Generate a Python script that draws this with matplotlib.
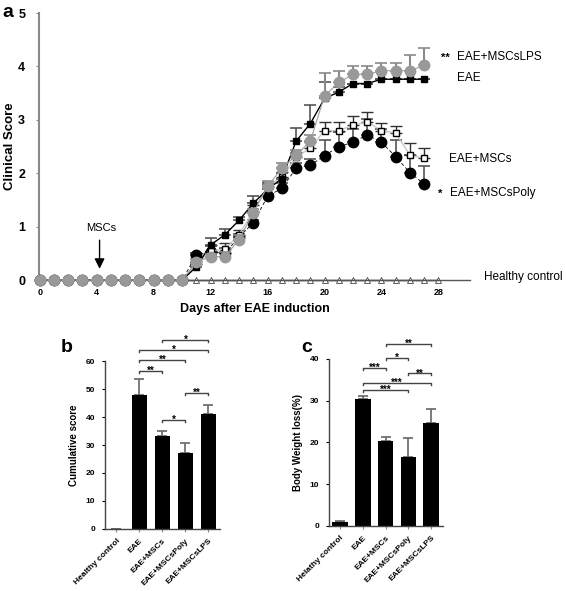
import numpy as np
import matplotlib.pyplot as plt

plt.rcParams['font.family'] = ['Liberation Sans', 'DejaVu Sans']

# data: clinical score, days 0-27
days = np.arange(28)
eae = [0] * 11 + [0.25, 0.66, 0.85, 1.12, 1.44, 1.70, 1.90, 2.60, 2.93, 3.40, 3.52,
                  3.68, 3.68, 3.76, 3.76, 3.76, 3.76]
eae_err = [0] * 11 + [0.05, 0.12, 0.10, 0.06, 0.13, 0.10, 0.10, 0.24, 0.35, 0.30, 0.10,
                      0, 0, 0, 0, 0, 0]
msc = [0] * 11 + [0.30, 0.55, 0.58, 0.85, 1.30, 1.75, 1.93, 2.30, 2.47, 2.80, 2.80,
                  2.90, 2.96, 2.80, 2.75, 2.34, 2.28]
msc_err = [0] * 11 + [0.05, 0.10, 0.12, 0.08, 0.10, 0.08, 0.10, 0.10, 0.12, 0.16, 0.16,
                      0.17, 0.18, 0.15, 0.14, 0.22, 0.19]
poly = [0] * 11 + [0.47, 0.53, 0.50, 0.81, 1.07, 1.57, 1.72, 2.09, 2.15, 2.33, 2.50,
                   2.58, 2.72, 2.58, 2.31, 2.01, 1.80]
poly_err = [0] * 11 + [0.03, 0.10, 0.10, 0.05, 0.05, 0.05, 0.10, 0.10, 0.12, 0.29, 0.28,
                       0.25, 0.30, 0.25, 0.31, 0.33, 0.33]
lps = [0] * 11 + [0.34, 0.44, 0.44, 0.76, 1.26, 1.76, 2.09, 2.34, 2.60, 3.45, 3.70,
                  3.85, 3.85, 3.92, 3.92, 3.92, 4.02]
lps_err = [0] * 11 + [0.05, 0.05, 0.08, 0.08, 0.08, 0.10, 0.10, 0.10, 0.12, 0.42, 0.21,
                      0.16, 0.15, 0.15, 0.15, 0.29, 0.32]
healthy_days = np.arange(8, 29)
healthy = [0] * len(healthy_days)

# bar panels
groups = ['Healthy control', 'EAE', 'EAE+MSCs', 'EAE+MSCsPoly', 'EAE+MSCsLPS']
groups_c = ['Helathy control', 'EAE', 'EAE+MSCs', 'EAE+MSCsPoly', 'EAE+MSCsLPS']
cum_score = [0, 47.8, 33.3, 27.0, 41.2]
cum_err = [0, 5.7, 1.7, 3.8, 3.0]
cum_sig = [(2, 4, 67.7, '*'), (1, 4, 64.0, '*'), (1, 3, 60.5, '**'),
           (1, 2, 56.5, '**'), (3, 4, 48.6, '**'), (2, 3, 39.1, '*')]
bw_loss = [0.9, 30.3, 20.4, 16.5, 24.6]
bw_err = [0.2, 0.7, 1.0, 4.6, 3.3]
bw_sig = [(2, 4, 43.6, '**'), (2, 3, 40.1, '*'), (1, 2, 37.9, '***'),
          (3, 4, 36.5, '**'), (1, 4, 34.2, '***'), (1, 3, 32.5, '***')]

fig = plt.figure(figsize=(5.66, 5.91), dpi=100)

# panel a
#
ax = fig.add_axes([0.069, 0.526, 0.761, 0.452])
spine_c = '#8a8a8a'


def up_err(e):
    return [np.zeros(len(e)), e]


ax.plot(healthy_days, healthy, color='black', lw=1.0, marker='^', ms=4.5,
        mfc='white', mec='#444444', mew=0.6, zorder=2, clip_on=False)
ax.errorbar(days, poly, yerr=up_err(poly_err), color='black', lw=0.6,
            ls=(0, (4, 3)), marker='o', ms=7.5, mfc='black', mec='black',
            ecolor='#555555', elinewidth=1.2, capsize=4, capthick=1.2,
            zorder=3, clip_on=False)
ax.errorbar(days, msc, yerr=up_err(msc_err), color='#c8c8c8', lw=1.0,
            marker='s', ms=4, mfc='white', mec='black', mew=1.0,
            ecolor='#333333', elinewidth=1.0, capsize=4, capthick=1.2,
            zorder=4, clip_on=False)
ax.errorbar(days, eae, yerr=up_err(eae_err), color='black', lw=1.0,
            marker='s', ms=4.5, mfc='black', mec='black',
            ecolor='#555555', elinewidth=1.2, capsize=4, capthick=1.2,
            zorder=5, clip_on=False)
ax.errorbar(days, lps, yerr=up_err(lps_err), color='#a0a0a0', lw=0.8,
            marker='o', ms=7.5, mfc='#999999', mec='#999999',
            ecolor='#8a8a8a', elinewidth=1.5, capsize=4, capthick=1.2,
            zorder=6, clip_on=False)

ax.set_xlim(-0.05, 30.2)
ax.set_ylim(0, 5)
ax.set_xticks(range(0, 29, 4))
ax.set_yticks(range(0, 6))
for s in ['top', 'right']:
    ax.spines[s].set_visible(False)
ax.spines['left'].set_color(spine_c)
ax.spines['left'].set_linewidth(1.5)
ax.spines['bottom'].set_color('#555555')
ax.spines['bottom'].set_linewidth(1.0)
ax.tick_params(axis='x', length=0, labelsize=6.5, pad=6)
ax.tick_params(axis='y', length=2, labelsize=9, color=spine_c, pad=8)
for lab in ax.get_xticklabels() + ax.get_yticklabels():
    lab.set_fontweight('bold')
ax.set_xlabel('Days after EAE induction', fontsize=9, fontweight='bold', labelpad=4)
ax.set_ylabel('Clinical Score', fontsize=9.5, fontweight='bold')
ax.yaxis.set_label_coords(-0.054, 0.5)

ax.annotate('', xy=(4.2, 0.16), xytext=(4.2, 0.8),
            arrowprops=dict(arrowstyle='-|>,head_width=0.3,head_length=0.6',
                            color='black', lw=1.0))
ax.text(4.3, 0.97, 'MSCs', fontsize=8, ha='center', va='center')

rlab = dict(fontsize=8.5, va='center', clip_on=False)
ax.text(28.2, 4.16, '**', fontsize=8, va='center', fontweight='bold')
ax.text(29.3, 4.18, 'EAE+MSCsLPS', **rlab)
ax.text(29.3, 3.78, 'EAE', **rlab)
ax.text(28.75, 2.26, 'EAE+MSCs', **rlab)
ax.text(28.0, 1.62, '*', fontsize=8, va='center', fontweight='bold')
ax.text(28.8, 1.64, 'EAE+MSCsPoly', **rlab)
ax.text(31.2, 0.06, 'Healthy control', **rlab)
fig.text(0.004, 0.993, 'a', fontsize=14, fontweight='bold', va='top')


# panels b and c
#
def bar_panel(rect, vals, errs, labels, sigs, ymax, ystep, ylabel, tag, tag_xy):
    bx = fig.add_axes(rect)
    x = np.arange(len(vals))
    bx.bar(x, vals, width=0.68, color='black', zorder=2)
    bx.errorbar(x, vals, yerr=[np.zeros(len(errs)), errs], fmt='none',
                ecolor='#666666', elinewidth=1.2, capsize=3.5, capthick=1.2, zorder=1)
    bx.set_xlim(-0.5, 4.5)
    bx.set_ylim(0, ymax)
    bx.set_yticks(np.arange(0, ymax + 1, ystep))
    bx.set_xticks(x)
    bx.set_xticklabels(labels, rotation=45, ha='right', rotation_mode='anchor',
                       fontsize=6, fontweight='bold')
    for s in ['top', 'right']:
        bx.spines[s].set_visible(False)
    for s in ['left', 'bottom']:
        bx.spines[s].set_color('#444444')
        bx.spines[s].set_linewidth(1.0)
    bx.tick_params(axis='x', length=2, color='#888888', pad=4)
    bx.tick_params(axis='y', length=2, labelsize=6, pad=5)
    for lab in bx.get_yticklabels():
        lab.set_fontweight('bold')
    bx.set_ylabel(ylabel, fontsize=7, fontweight='bold', labelpad=5)
    h = ymax * 0.012
    for a, b, y, star in sigs:
        bx.plot([a, a, b, b], [y - h, y, y, y - h], color='#444444', lw=1.0,
                clip_on=False)
        bx.text((a + b) / 2, y, star, ha='center', va='center', fontsize=7,
                fontweight='bold', clip_on=False)
    fig.text(tag_xy[0], tag_xy[1], tag, fontsize=14, fontweight='bold', va='center')
    return bx


bar_panel([0.1855, 0.105, 0.203, 0.284], cum_score, cum_err, groups, cum_sig,
          60, 10, 'Cumulative score', 'b', (0.108, 0.412))
bar_panel([0.581, 0.110, 0.201, 0.283], bw_loss, bw_err, groups_c, bw_sig,
          40, 10, 'Body Weight loss(%)', 'c', (0.533, 0.412))

plt.savefig('out.png', dpi=100)
